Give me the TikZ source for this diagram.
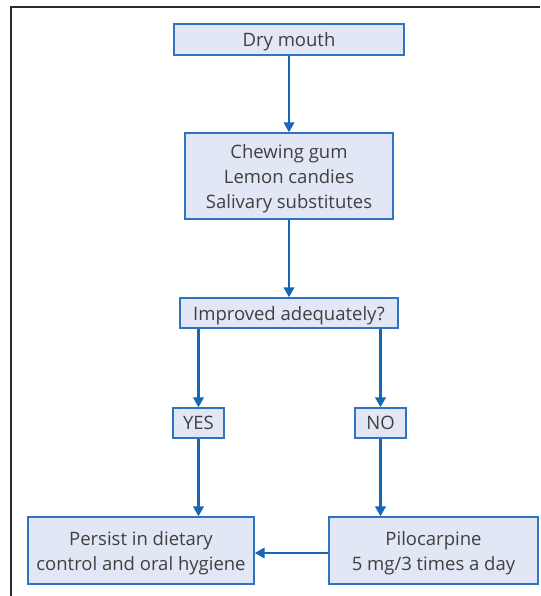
\documentclass[tikz,border=0pt]{standalone}
\usepackage{fontspec}
\setmainfont{Open Sans}
\usetikzlibrary{arrows.meta}
\definecolor{boxfill}{HTML}{E1E7F4}
\definecolor{boxline}{HTML}{2E74C2}
\definecolor{flow}{HTML}{1766B8}
\definecolor{ink}{HTML}{404040}
\definecolor{frame}{HTML}{2A2A2A}
\begin{document}
\begin{tikzpicture}[x=1pt,y=-1pt,
  stepbox/.style={draw=boxline,fill=boxfill,line width=1.4pt,inner sep=0pt,
    text depth=0pt,text=ink,font=\fontsize{18.5}{25}\selectfont,align=center},
  flowarrow/.style={draw=flow,line width=2.4pt,-{Triangle[length=10pt,width=10.5pt]}}]
  \useasboundingbox (0,0) rectangle (540,596);
  % page frame (only top and left edges show)
  \draw[frame,line width=1.5pt] (11,596) -- (11,7) -- (540,7);
  % boxes
  \node[stepbox,minimum width=230pt,minimum height=31pt] (dry) at (289,39.5) {Dry mouth};
  \node[stepbox,minimum width=208pt,minimum height=86pt] (care) at (289,176)
    {Chewing gum\\Lemon candies\\Salivary substitutes};
  \node[stepbox,minimum width=218pt,minimum height=30pt] (ask) at (289,313) {Improved adequately?};
  \node[stepbox,minimum width=51pt,minimum height=30pt] (yes) at (198.5,423) {YES};
  \node[stepbox,minimum width=51pt,minimum height=30pt] (no) at (380.5,423) {NO};
  \node[stepbox,minimum width=226pt,minimum height=67pt] (persist) at (141,550.5)
    {Persist in dietary\\control and oral hygiene};
  \node[stepbox,minimum width=209pt,minimum height=67pt] (pilo) at (433.5,550.5)
    {Pilocarpine\\5 mg/3 times a day};
  % connectors
  \draw[flowarrow] (dry) -- (care);
  \draw[flowarrow] (care) -- (ask);
  \draw[flowarrow] (ask.south -| yes) -- (yes);
  \draw[flowarrow] (ask.south -| no) -- (no);
  \draw[flowarrow] (yes) -- (yes |- persist.north);
  \draw[flowarrow] (no) -- (no |- pilo.north);
  \draw[flowarrow] ([yshift=-2.5pt]pilo.west) -- ([yshift=-2.5pt]persist.east);
\end{tikzpicture}
\end{document}
